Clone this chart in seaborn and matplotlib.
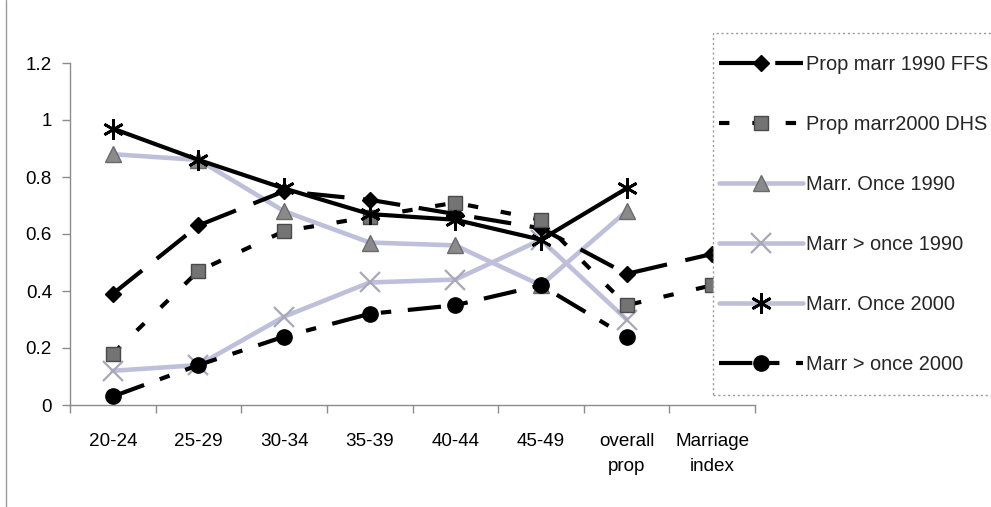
import numpy as np
import pandas as pd
import matplotlib
matplotlib.use("Agg")
import matplotlib.pyplot as plt
from matplotlib.lines import Line2D
from matplotlib.patches import Rectangle
from matplotlib.ticker import FixedLocator, NullFormatter
import seaborn as sns

# --- data -------------------------------------------------------------
categories = ["20-24", "25-29", "30-34", "35-39", "40-44", "45-49",
              "overall\nprop", "Marriage\nindex"]

prop_marr_1990_ffs = [0.39, 0.63, 0.75, 0.72, 0.67, 0.62, 0.46, 0.53]
prop_marr_2000_dhs = [0.18, 0.47, 0.61, 0.66, 0.71, 0.65, 0.35, 0.42]
marr_once_1990 = [0.88, 0.86, 0.68, 0.57, 0.56, 0.42, 0.68, np.nan]
marr_more_1990 = [0.12, 0.14, 0.31, 0.43, 0.44, 0.58, 0.30, np.nan]
marr_once_2000 = [0.97, 0.86, 0.76, 0.67, 0.65, 0.58, 0.76, np.nan]
marr_more_2000 = [0.03, 0.14, 0.24, 0.32, 0.35, 0.42, 0.24, np.nan]

series_labels = ["Prop marr 1990 FFS", "Prop marr2000 DHS", "Marr. Once 1990",
                 "Marr > once 1990", "Marr. Once 2000", "Marr > once 2000"]

y_ticks = [0, 0.2, 0.4, 0.6, 0.8, 1.0, 1.2]
y_tick_labels = ["0", "0.2", "0.4", "0.6", "0.8", "1", "1.2"]

# --- styling ----------------------------------------------------------
sns.set_style("white")
plt.rcParams["font.family"] = ["Liberation Sans", "DejaVu Sans"]

LAVENDER = "#BEC0DB"
AXIS_GREY = "#8c8c8c"

styles = [
    dict(color="black", lw=3.0, linestyle=(0, (9, 4.5)), marker="D", ms=8.5,
         mfc="black", mec="black"),
    dict(color="black", lw=3.0, linestyle=(0, (2.5, 5.5)), marker="s", ms=10.5,
         mfc="#747474", mec="#4a4a4a", mew=1.0),
    dict(color=LAVENDER, lw=3.3, linestyle="-", marker="^", ms=12,
         mfc="#8a8a8a", mec="#6a6a6a", mew=1.0),
    dict(color=LAVENDER, lw=3.3, linestyle="-", marker="x", ms=15,
         mfc="#a8a8b8", mec="#a8a8b8", mew=1.6),
    dict(color="black", lw=3.0, linestyle="-", marker=(6, 2, 0), ms=15,
         mfc="black", mec="black", mew=2.0),
    dict(color="black", lw=3.0, linestyle=(0, (8, 4, 2.5, 4)), marker="o", ms=11,
         mfc="black", mec="black"),
]

series = [prop_marr_1990_ffs, prop_marr_2000_dhs, marr_once_1990,
          marr_more_1990, marr_once_2000, marr_more_2000]
zorders = [4, 4, 3, 3, 5, 4]

W, H = 991, 507
fig = plt.figure(figsize=(W / 100, H / 100), dpi=100)
fig.patch.set_facecolor("white")

ax_left, ax_right, ax_top, ax_bottom = 70, 755, 63, 405
ax = fig.add_axes([ax_left / W, 1 - ax_bottom / H,
                   (ax_right - ax_left) / W, (ax_bottom - ax_top) / H])

positions = np.arange(len(categories))
for label, values, st, z in zip(series_labels, series, styles, zorders):
    df = pd.DataFrame({"pos": positions, "value": values})
    sns.lineplot(data=df, x="pos", y="value", ax=ax, zorder=z,
                 color=st["color"], lw=st["lw"], linestyle=st["linestyle"],
                 marker=st["marker"], markersize=st["ms"],
                 markerfacecolor=st["mfc"], markeredgecolor=st["mec"],
                 markeredgewidth=st.get("mew", 1.0), dash_capstyle="butt",
                 legend=False)

ax.set_xlim(-0.5, len(categories) - 0.5)
ax.set_ylim(0, 1.2)
ax.set_xlabel("")
ax.set_ylabel("")

# y axis
ax.set_yticks(y_ticks)
ax.set_yticklabels(y_tick_labels)
ax.tick_params(axis="y", direction="out", length=6, width=1, color=AXIS_GREY,
               pad=7, labelsize=13.6, labelcolor="black", left=True)

# x axis: labels centred on categories, tick marks between them
ax.set_xticks(positions)
ax.set_xticklabels(categories, linespacing=1.6)
ax.tick_params(axis="x", which="major", length=0, pad=20, labelsize=13.6,
               labelcolor="black")
ax.xaxis.set_minor_locator(FixedLocator(np.arange(-0.5, len(categories), 1.0)))
ax.xaxis.set_minor_formatter(NullFormatter())
ax.tick_params(axis="x", which="minor", direction="out", length=6, width=1,
               color=AXIS_GREY, bottom=True)
for lbl in ax.get_xticklabels():
    lbl.set_verticalalignment("top")

for side in ["top", "right"]:
    ax.spines[side].set_visible(False)
for side in ["left", "bottom"]:
    ax.spines[side].set_color(AXIS_GREY)
    ax.spines[side].set_linewidth(1.0)
ax.grid(False)

# legend
handles = []
for i, st in enumerate(styles):
    line_color = LAVENDER if i == 4 else st["color"]
    line_lw = 3.3 if i == 4 else st["lw"]
    handles.append(Line2D([0], [0], color=line_color, lw=line_lw,
                          linestyle=st["linestyle"], marker=st["marker"],
                          markersize=st["ms"], markerfacecolor=st["mfc"],
                          markeredgecolor=st["mec"],
                          markeredgewidth=st.get("mew", 1.0),
                          dash_capstyle="butt"))

leg_left, leg_top, leg_bottom = 713, 33, 395
fig.add_artist(Rectangle((leg_left / W, 1 - leg_bottom / H),
                         (W + 20 - leg_left) / W, (leg_bottom - leg_top) / H,
                         transform=fig.transFigure, fill=True, facecolor="white",
                         edgecolor="#9a9a9a", lw=1.0, linestyle=(0, (1.5, 2)),
                         zorder=6))
leg = fig.legend(handles, series_labels, loc="upper left",
                 bbox_to_anchor=(leg_left / W, 1 - (leg_top + 16) / H),
                 frameon=False, handlelength=4.2, handletextpad=0.15,
                 labelspacing=2.05, borderpad=0.3, borderaxespad=0, numpoints=1,
                 prop=dict(family=["Liberation Sans"], size=14.4))
leg.set_zorder(7)

# outer page frame line on the left
fig.add_artist(Line2D([5.5 / W, 5.5 / W], [0, 1], transform=fig.transFigure,
                      color="#9a9a9a", lw=1.0))

fig.savefig("out.png", dpi=100, facecolor="white")
